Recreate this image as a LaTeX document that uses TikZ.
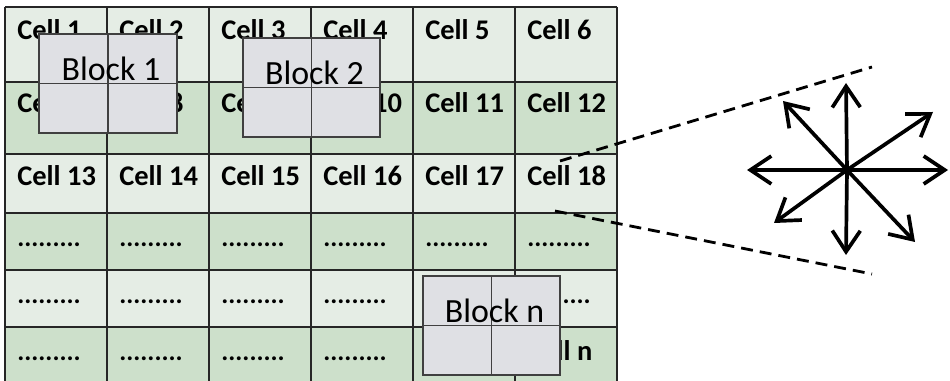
\documentclass[tikz,border=0pt]{standalone}
\usepackage{fontspec}
\setmainfont{Carlito}
\usetikzlibrary{arrows.meta}

\definecolor{rowlight}{RGB}{229,237,229}
\definecolor{rowgreen}{RGB}{205,224,203}
\definecolor{blockgray}{RGB}{223,224,228}

\tikzset{
	celltext/.style={anchor=base west, inner sep=0pt, font=\fontsize{16.2}{19}\selectfont\bfseries},
	celldots/.style={anchor=base west, inner sep=0pt, font=\fontsize{15}{18}\selectfont\bfseries},
	blocktext/.style={anchor=base, inner sep=0pt, font=\fontsize{19.3}{23}\selectfont},
	blockbox/.style={fill=blockgray, draw=black!75, line width=1pt},
	blockline/.style={draw=black!75, line width=1pt},
	gridline/.style={draw=black!85, line width=1.3pt},
	zoomline/.style={line width=1.6pt, dash pattern=on 6.8pt off 4pt},
	dirarrow/.style={line width=2.1pt, -{Straight Barb[length=0.42cm, width=0.56cm]}}
}

% 2x2 block laid over the table: (x1,y1)(x2,y2){name}{label}
\def\gridblock(#1,#2)(#3,#4)#5#6{%
	\draw[blockbox] (#1,#2) rectangle (#3,#4);
	\draw[blockline] ({(#1+#3)/2},#2) -- ({(#1+#3)/2},#4);
	\draw[blockline] (#1,{(#2+#4)/2}) -- (#3,{(#2+#4)/2});
	\node[blocktext] (#5) at ({(#1+#3)/2+3},{(#2+#4)/2-3}) {#6};
}

\begin{document}
\begin{tikzpicture}[x=0.02cm, y=-0.02cm]
		%%%%% START %%%%%
		\useasboundingbox (0,0) rectangle (950,381);
		
		% row stripes
		\foreach \ytop/\ybot/\rowcol in {7/82/rowlight, 82/154/rowgreen, 154/213/rowlight, 213/270/rowgreen, 270/327/rowlight, 327/384/rowgreen}
			\fill[\rowcol] (5,\ytop) rectangle (617,\ybot);
		
		% grid
		\foreach \x in {5,107,209,311,413,515,617}
			\draw[gridline] (\x,7) -- (\x,384);
		\foreach \y in {7,82,154,213,270,327}
			\draw[gridline] (5,\y) -- (617,\y);
		
		% cell labels, three numbered rows
		\foreach \c in {1,...,6} {
			\pgfmathtruncatemacro{\cb}{\c+6}
			\pgfmathtruncatemacro{\cc}{\c+12}
			\node[celltext] (cell\c) at ({5+102*(\c-1)+12}, 40) {Cell \c};
			\node[celltext] (cell\cb) at ({5+102*(\c-1)+12}, 113) {Cell \cb};
			\node[celltext] (cell\cc) at ({5+102*(\c-1)+12}, 186) {Cell \cc};
		}
		
		% dotted rows
		\foreach \c in {1,...,6}
			\foreach \r/\yb in {4/247, 5/304} {
				\node[celldots] (dots\r\c) at ({5+102*(\c-1)+12}, \yb) {.........};
			}
		\foreach \c in {1,...,5}
			\node[celldots] (dots6\c) at ({5+102*(\c-1)+12}, 361) {.........};
		\node[celltext] (celln) at (527, 361) {Cell n};
		
		% blocks on top
		\gridblock(39,34)(177,133){block1}{Block 1}
		\gridblock(243,38)(380,137){block2}{Block 2}
		\gridblock(423,276)(560,375){blockn}{Block n}
		
		% zoom of cell 18
		\coordinate (c18top) at (560,161);
		\coordinate (c18bot) at (555,211);
		\coordinate (zoomtop) at (872,67);
		\coordinate (zoombot) at (872,274);
		\draw[zoomline] (c18top) -- (zoomtop);
		\draw[zoomline] (c18bot) -- (zoombot);
		
		% eight directions
		\coordinate (hub) at (847,170);
		\foreach \tx/\ty in {846/83, 846/255, 747/170, 948/170, 783/101, 933/112, 774/223, 915/242}
			\draw[dirarrow] (hub) -- (\tx,\ty);
		
		%%%%% END %%%%%
	\end{tikzpicture}
\end{document}
